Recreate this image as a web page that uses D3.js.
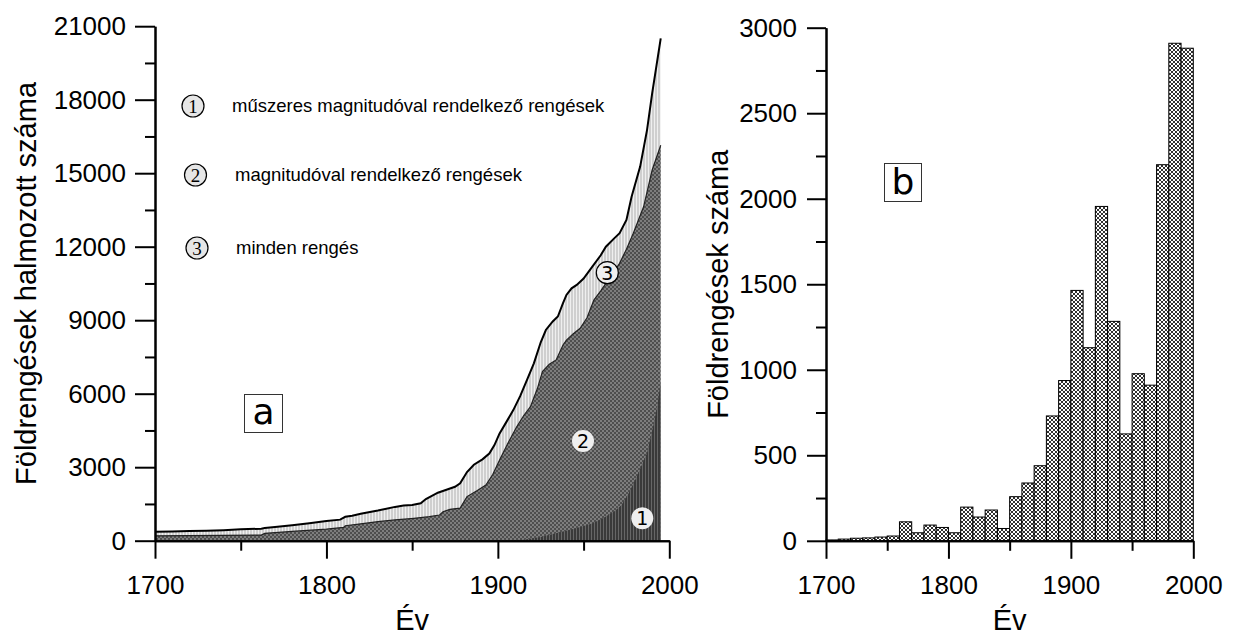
<!DOCTYPE html>
<html>
<head>
<meta charset="utf-8">
<script src="https://cdn.jsdelivr.net/npm/d3@7"></script>
<style>
  html, body { margin: 0; padding: 0; background: #fff; }
  svg { display: block; }
  text { font-family: "Liberation Sans", Arial, sans-serif; fill: #000; }
</style>
</head>
<body>
<svg id="chart" width="1246" height="635"></svg>
<script>
// ---------- DATA ----------
// Panel a: cumulative counts
const allYears = [1700,1710,1720,1730,1740,1750,1762,1764,1770,1780,1790,1800,1808,1811,1815,1820,1830,1840,1845,1850,1855,1858,1865,1870,1875,1878,1882,1886,1891,1895,1898,1901,1905,1909,1913,1917,1921,1925,1928,1932,1935,1938,1940,1943,1946,1950,1955,1960,1963,1968,1971,1975,1978,1983,1987,1990,1995];
const allCum   = [370,380,395,410,430,465,490,520,560,635,710,800,860,975,1020,1100,1230,1380,1440,1460,1530,1700,1960,2080,2200,2340,2800,3100,3320,3560,3900,4380,4850,5330,5900,6560,7240,8100,8600,8950,9150,9700,10030,10300,10440,10700,11180,11650,12000,12350,12550,13090,14040,15270,16760,18260,20500];

const magYears = [1700,1762,1764,1780,1800,1810,1811,1820,1830,1840,1851,1860,1866,1868,1872,1878,1882,1888,1893,1897,1901,1906,1911,1915,1919,1923,1926,1930,1934,1938,1940,1944,1948,1952,1956,1960,1963,1967,1971,1975,1979,1985,1990,1995];
const magCum   = [200,230,300,380,470,546,612,690,776,850,914,980,1050,1180,1280,1330,1800,2050,2270,2700,3290,4000,4650,5100,5470,6200,6900,7200,7380,7990,8190,8450,8670,9100,9820,10200,10500,10900,11320,11900,12550,13630,15130,16140];

const instYears = [1900,1915,1925,1935,1945,1955,1962,1968,1972,1976,1981,1984,1987,1991,1993,1995];
const instCum   = [0,40,150,320,500,700,950,1200,1450,1900,2610,3100,3570,4790,5500,6500];

const legendNums  = ["1","2","3"];
const legendTexts = ["műszeres magnitudóval rendelkező rengések","magnitudóval rendelkező rengések","minden rengés"];

// Panel b: counts per decade
const binStarts = [1700,1710,1720,1730,1740,1750,1760,1770,1780,1790,1800,1810,1820,1830,1840,1850,1860,1870,1880,1890,1900,1910,1920,1930,1940,1950,1960,1970,1980,1990];
const binCounts = [5,10,15,17,22,28,111,47,92,78,47,197,139,180,72,258,338,439,730,937,1464,1129,1955,1283,625,977,910,2199,2909,2880];

const yTicksA = [0,3000,6000,9000,12000,15000,18000,21000];
const yTicksB = [0,500,1000,1500,2000,2500,3000];
const xTicks  = [1700,1800,1900,2000];

// ---------- DRAW ----------
const svg = d3.select("#chart");
const defs = svg.append("defs");
const fmt = d3.format("d");

// pattern: light vertical stripes (area 3)
const p3 = defs.append("pattern").attr("id","p3").attr("patternUnits","userSpaceOnUse").attr("width",3).attr("height",4);
p3.append("rect").attr("width",3).attr("height",4).attr("fill","#cfcfcf");
p3.append("rect").attr("width",1).attr("height",4).attr("fill","#efefef");
// pattern: dark checker (area 2)
const p2 = defs.append("pattern").attr("id","p2").attr("patternUnits","userSpaceOnUse").attr("width",4).attr("height",4);
p2.append("rect").attr("width",4).attr("height",4).attr("fill","#4e4e4e");
p2.append("rect").attr("x",0).attr("y",0).attr("width",2).attr("height",2).attr("fill","#7e7e7e");
p2.append("rect").attr("x",2).attr("y",2).attr("width",2).attr("height",2).attr("fill","#7e7e7e");
// pattern: darker vertical stripes (area 1)
const p1 = defs.append("pattern").attr("id","p1").attr("patternUnits","userSpaceOnUse").attr("width",3).attr("height",4);
p1.append("rect").attr("width",3).attr("height",4).attr("fill","#3a3a3a");
p1.append("rect").attr("width",1).attr("height",4).attr("fill","#676767");
// pattern: crosshatch (bars)
const ph = defs.append("pattern").attr("id","ph").attr("patternUnits","userSpaceOnUse").attr("width",4).attr("height",4);
ph.append("rect").attr("width",4).attr("height",4).attr("fill","#fff");
ph.append("path").attr("d","M0,0L4,4M4,0L0,4").attr("stroke","#1a1a1a").attr("stroke-width",0.9);

// ===== Panel a =====
const xA = d3.scaleLinear([1700,2000],[155,669.3]);
const yA = d3.scaleLinear([0,21000],[540.7,26.2]);

const zipA = (xs, ys) => xs.map((x,i)=>({x, y: ys[i]}));
const areaA = d3.area().x(d=>xA(d.x)).y0(yA(0)).y1(d=>yA(d.y));
const lineA = d3.line().x(d=>xA(d.x)).y(d=>yA(d.y));

const dAll = zipA(allYears, allCum), dMag = zipA(magYears, magCum), dInst = zipA(instYears, instCum);
svg.append("path").attr("d", areaA(dAll)).attr("fill","url(#p3)");
svg.append("path").attr("d", areaA(dMag)).attr("fill","url(#p2)");
svg.append("path").attr("d", areaA(dInst)).attr("fill","url(#p1)");
svg.append("path").attr("d", lineA(dMag)).attr("fill","none").attr("stroke","#222").attr("stroke-width",1.2);
svg.append("path").attr("d", lineA(dAll)).attr("fill","none").attr("stroke","#000").attr("stroke-width",2);

function styleAxis(g){
  g.selectAll("path.domain").attr("stroke","#000").attr("stroke-width",2);
  g.selectAll("line").attr("stroke","#000").attr("stroke-width",2);
  g.selectAll("text").style("font-family","'Liberation Sans', Arial, sans-serif").style("font-size","26px").attr("fill","#000");
}

// minor ticks
svg.append("g").attr("transform",`translate(${xA(1700)},0)`)
  .call(d3.axisLeft(yA).tickValues(d3.range(1500,21000,3000)).tickSize(10).tickFormat("").tickSizeOuter(0))
  .call(styleAxis);
svg.append("g").attr("transform",`translate(${xA(1700)},0)`)
  .call(d3.axisLeft(yA).tickValues(yTicksA).tickSize(20).tickPadding(9).tickFormat(fmt).tickSizeOuter(0))
  .call(styleAxis);
svg.append("g").attr("transform",`translate(0,${yA(0)})`)
  .call(d3.axisBottom(xA).tickValues([1750,1850,1950]).tickSize(10).tickFormat("").tickSizeOuter(0))
  .call(styleAxis);
svg.append("g").attr("transform",`translate(0,${yA(0)})`)
  .call(d3.axisBottom(xA).tickValues(xTicks).tickSize(18).tickPadding(17).tickFormat(fmt).tickSizeOuter(0))
  .call(styleAxis);

svg.append("text").attr("transform",`translate(36,${(yA(0)+yA(21000))/2}) rotate(-90)`)
  .attr("text-anchor","middle").style("font-size","29px").text("Földrengések halmozott száma");
svg.append("text").attr("x",(xA(1700)+xA(2000))/2).attr("y",630).attr("text-anchor","middle").style("font-size","29px").text("Év");

// legend
const legPos = [[193,106,232],[195.5,175,235],[197,248,236]];
legendNums.forEach((n,i)=>{
  const [cx,cy,tx] = legPos[i];
  svg.append("circle").attr("cx",cx).attr("cy",cy).attr("r",11).attr("fill","#e6e6e6").attr("stroke","#000").attr("stroke-width",1.2);
  svg.append("text").attr("x",cx).attr("y",cy).attr("dy","0.36em").attr("text-anchor","middle")
    .style("font-family","'Liberation Serif', serif").style("font-size","19px").text(n);
  svg.append("text").attr("x",tx).attr("y",cy).attr("dy","0.35em").style("font-size","18.5px").text(legendTexts[i]);
});

// in-chart labels
const inLab = [["3",607.3,272.7,true],["2",583,441,false],["1",642.3,518.3,false]];
inLab.forEach(([n,cx,cy,st])=>{
  svg.append("circle").attr("cx",cx).attr("cy",cy).attr("r",11).attr("fill","#efefef")
    .attr("stroke", st ? "#000" : "none").attr("stroke-width",1.2);
  svg.append("text").attr("x",cx).attr("y",cy).attr("dy","0.36em").attr("text-anchor","middle")
    .style("font-family","'DejaVu Sans', sans-serif").style("font-size","19px").text(n);
});

// "a" box
svg.append("rect").attr("x",244.5).attr("y",394.5).attr("width",38).attr("height",38).attr("fill","#fff").attr("stroke","#333").attr("stroke-width",1);
svg.append("text").attr("x",263.5).attr("y",424).attr("text-anchor","middle").style("font-family","'DejaVu Sans', sans-serif").style("font-size","36px").text("a");

// ===== Panel b =====
const xB = d3.scaleLinear([1700,2000],[826,1193.3]);
const yB = d3.scaleLinear([0,3000],[540.8,27.7]);

svg.append("g").selectAll("rect").data(binStarts).join("rect")
  .attr("x", d=>xB(d)).attr("width", d=>xB(d+10)-xB(d))
  .attr("y", (d,i)=>yB(binCounts[i])).attr("height",(d,i)=>yB(0)-yB(binCounts[i]))
  .attr("fill","url(#ph)").attr("stroke","#000").attr("stroke-width",1);

svg.append("g").attr("transform",`translate(${xB(1700)},0)`)
  .call(d3.axisLeft(yB).tickValues(d3.range(250,3000,500)).tickSize(10).tickFormat("").tickSizeOuter(0))
  .call(styleAxis);
svg.append("g").attr("transform",`translate(${xB(1700)},0)`)
  .call(d3.axisLeft(yB).tickValues(yTicksB).tickSize(19).tickPadding(10).tickFormat(fmt).tickSizeOuter(0))
  .call(styleAxis);
svg.append("g").attr("transform",`translate(0,${yB(0)})`)
  .call(d3.axisBottom(xB).tickValues([1750,1850,1950]).tickSize(10).tickFormat("").tickSizeOuter(0))
  .call(styleAxis);
svg.append("g").attr("transform",`translate(0,${yB(0)})`)
  .call(d3.axisBottom(xB).tickValues(xTicks).tickSize(18).tickPadding(17).tickFormat(fmt).tickSizeOuter(0))
  .call(styleAxis);

svg.append("text").attr("transform",`translate(728,${(yB(0)+yB(3000))/2}) rotate(-90)`)
  .attr("text-anchor","middle").style("font-size","29px").text("Földrengések száma");
svg.append("text").attr("x",(xB(1700)+xB(2000))/2).attr("y",630).attr("text-anchor","middle").style("font-size","29px").text("Év");

svg.append("rect").attr("x",884.5).attr("y",163.5).attr("width",37).attr("height",38).attr("fill","#fff").attr("stroke","#333").attr("stroke-width",1);
svg.append("text").attr("x",903).attr("y",194).attr("text-anchor","middle").style("font-family","'DejaVu Sans', sans-serif").style("font-size","36px").text("b");
</script>
</body>
</html>
